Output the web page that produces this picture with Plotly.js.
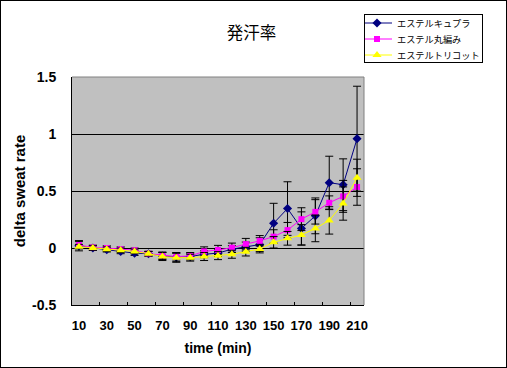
<!DOCTYPE html>
<html>
<head>
<meta charset="utf-8">
<script src="https://cdn.plot.ly/plotly-3.0.1.min.js"></script>
<style>
body{margin:0;padding:0;background:#fff;}
#wrap{position:relative;width:507px;height:368px;}
#plot{position:absolute;left:0;top:0;width:507px;height:368px;}
#frame{position:absolute;left:0;top:0;width:507px;height:368px;box-sizing:border-box;border:1px solid #000;pointer-events:none;}
</style>
</head>
<body>
<div id="wrap"><div id="plot"></div><div id="frame"></div></div>
<script>
const times = [10,20,30,40,50,60,70,80,90,100,110,120,130,140,150,160,170,180,190,200,210];
const tickLabels = ['10','30','50','70','90','110','130','150','170','190','210'];
const tickPositions = [10,30,50,70,90,110,130,150,170,190,210];
const tickMarks = [25,45,65,85,105,125,145,165,185,205];

const names = ['エステルキュプラ','エステル丸編み','エステルトリコット'];

const cupra = [0.02,0.0,-0.015,-0.03,-0.045,-0.05,-0.07,-0.08,-0.075,-0.055,-0.045,-0.01,0.012,0.03,0.217,0.346,0.172,0.282,0.573,0.555,0.959];
const cupraErr = [0.045,0.02,0.02,0.02,0.02,0.02,0.03,0.04,0.03,0.03,0.03,0.03,0.04,0.06,0.175,0.235,0.145,0.157,0.232,0.227,0.46];

const maru = [0.026,0.005,0.0,-0.01,-0.02,-0.05,-0.065,-0.075,-0.07,-0.03,-0.017,0.003,0.034,0.063,0.1,0.157,0.253,0.317,0.397,0.453,0.535];
const maruErr = [0.03,0.02,0.02,0.02,0.02,0.02,0.03,0.03,0.03,0.04,0.04,0.04,0.05,0.046,0.06,0.067,0.1,0.107,0.06,0.14,0.16];

const tricot = [0.012,0.0,-0.01,-0.02,-0.03,-0.05,-0.075,-0.085,-0.085,-0.075,-0.067,-0.055,-0.032,-0.008,0.05,0.085,0.115,0.172,0.242,0.39,0.616];
const tricotErr = [0.02,0.02,0.02,0.02,0.02,0.02,0.035,0.04,0.03,0.035,0.035,0.035,0.038,0.035,0.05,0.06,0.09,0.117,0.12,0.146,0.163];

const errStyle = (arr) => ({type:'data', array:arr, visible:true, color:'#000', thickness:1, width:4});

const traces = [
  {x:times, y:cupra, name:names[0], type:'scatter', mode:'lines+markers',
   line:{color:'#000080', width:1}, marker:{symbol:'diamond', size:7, color:'#000080'},
   error_y: errStyle(cupraErr)},
  {x:times, y:maru, name:names[1], type:'scatter', mode:'lines+markers',
   line:{color:'#FF00FF', width:1}, marker:{symbol:'square', size:6, color:'#FF00FF'},
   error_y: errStyle(maruErr)},
  {x:times, y:tricot, name:names[2], type:'scatter', mode:'lines+markers',
   line:{color:'#FFFF00', width:1}, marker:{symbol:'triangle-up', size:8, color:'#FFFF00'},
   error_y: errStyle(tricotErr)}
];

const boldFont = (s) => ({family:'Liberation Sans, Arial', size:s, color:'#000', weight:'bold'});

const layout = {
  width:507, height:368,
  margin:{l:72, r:66, t:77, b:63, pad:0},
  paper_bgcolor:'#fff', plot_bgcolor:'#C0C0C0',
  font:{family:'Liberation Sans, Arial, sans-serif', color:'#000', size:13},
  title:{text:'発汗率', font:{family:'Noto Sans CJK JP', size:16.5, color:'#000'},
         x:0.496, xanchor:'center', y:1-33/368, yanchor:'middle', xref:'container', yref:'container'},
  showlegend:true,
  legend:{x:364/507, y:1-14/368, xref:'container', yref:'container', xanchor:'left', yanchor:'top',
          bgcolor:'#fff', bordercolor:'#000', borderwidth:1, itemwidth:30,
          font:{family:'Noto Sans CJK JP', size:9.2, color:'#000'}},
  xaxis:{range:[5,215], tickmode:'array', tickvals:tickPositions, ticktext:tickLabels,
         ticks:'', showgrid:false, zeroline:false, showline:true, linecolor:'#000', linewidth:1,
         tickfont:boldFont(13),
         ticklabelstandoff:8,
         minor:{tickmode:'array', tickvals:tickMarks, ticks:'inside', ticklen:3, tickcolor:'#000', tickwidth:1, showgrid:false},
         title:{text:'time (min)', font:boldFont(14), standoff:11},
         automargin:false, fixedrange:true},
  yaxis:{range:[-0.5,1.5], tickmode:'array', tickvals:[-0.5,0,0.5,1,1.5], ticktext:['-0.5','0','0.5','1','1.5'],
         ticks:'', showgrid:true, gridcolor:'#000', gridwidth:1, zeroline:false,
         showline:true, linecolor:'#000', linewidth:1,
         tickfont:boldFont(14),
         ticklabelstandoff:12,
         title:{text:'delta sweat rate', font:boldFont(15), standoff:2},
         automargin:false, fixedrange:true},
  shapes:[
    {type:'line', xref:'paper', yref:'paper', x0:0, x1:1, y0:1, y1:1, line:{color:'#808080', width:1}, layer:'above'},
    {type:'line', xref:'paper', yref:'paper', x0:1, x1:1, y0:0, y1:1, line:{color:'#808080', width:1}, layer:'above'}
  ]
};

const gd = document.getElementById('plot');
Plotly.newPlot(gd, traces, layout, {displayModeBar:false, staticPlot:true}).then(function(){
  // tighten the legend's entry spacing to the compact look of the original
  const legendW = 118, legendH = 48, rowGap = 16, firstRow = 9;
  gd.querySelectorAll('.legend .traces').forEach(function(el, i){
    el.setAttribute('transform', 'translate(-7,' + (firstRow + i * rowGap) + ')');
  });
  const bg = gd.querySelector('.legend .bg');
  if (bg) { bg.setAttribute('width', legendW); bg.setAttribute('height', legendH); }
  gd.querySelectorAll('.legend clipPath rect').forEach(function(r){
    r.setAttribute('width', legendW); r.setAttribute('height', legendH);
  });
});
</script>
</body>
</html>
